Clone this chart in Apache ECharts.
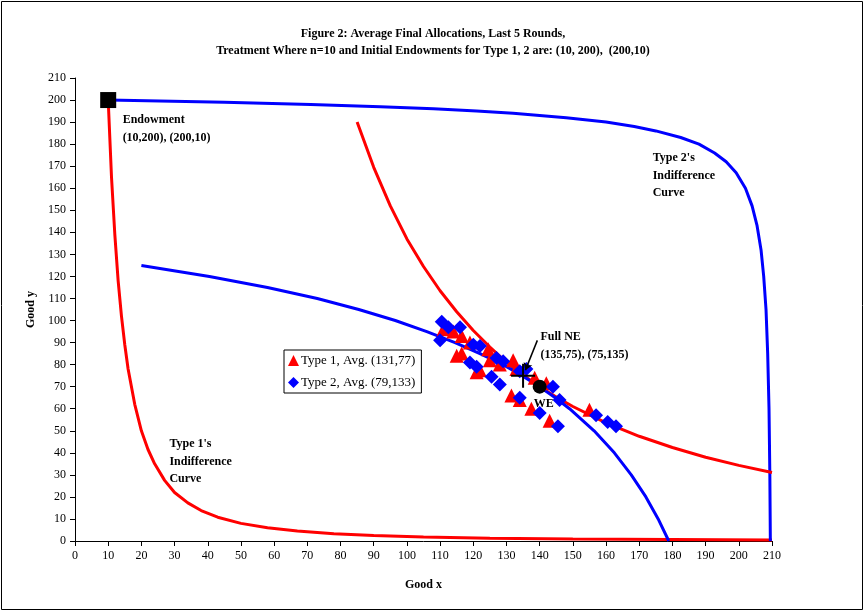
<!DOCTYPE html>
<html>
<head>
<meta charset="utf-8">
<script src="https://cdn.jsdelivr.net/npm/echarts@6/dist/echarts.min.js"></script>
<style>
html,body{margin:0;padding:0;background:#fff;}
#chart{width:866px;height:615px;}
</style>
</head>
<body>
<div id="chart"></div>
<script>
// ---- Data ----
const titleLines = [
  'Figure 2: Average Final Allocations, Last 5 Rounds,',
  'Treatment Where n=10 and Initial Endowments for Type 1, 2 are: (10, 200),  (200,10)'
];
const axisMin = 0, axisMax = 210, axisStep = 10;

// Type 1's indifference curve through the endowment (red)
const red1 = [[10,200],[11,165],[12,139],[13,118],[14,102],[15,89],[16,78],[18,62],[20,50],[22,41.5],[24,35],[27,27.5],[30,22],[34,17.3],[38,13.8],[43,10.8],[50,8],[58,6],[67,4.5],[78,3.3],[90,2.5],[105,1.8],[125,1.3],[150,0.9],[180,0.65],[210,0.5]];
// Type 2's indifference curve through the endowment (blue)
const blue1 = [[10,200],[45,199],[71,198],[92,197],[108,196],[121,195],[132,194],[148,192],[160,190],[168.5,188],[175,186],[182.5,183],[188,180],[192.7,176],[196.2,172],[199.2,167],[202,160],[204,152],[205.5,143],[206.7,132],[207.5,120],[208.2,105],[208.7,85],[209.1,60],[209.35,30],[209.5,0]];
// Type 1 curve through the equilibrium (red)
const red2 = [[85,190],[90,169.5],[95,152],[100,137],[105,124.5],[110,113.5],[115,104],[120,95.5],[125,88],[130,81],[135,75.3],[140,70],[145,65.3],[150,61],[160,53.6],[170,47.5],[180,42.4],[190,38],[200,34.3],[210,31.1]];
// Type 2 curve through the equilibrium (blue)
const blue2 = [[20,125],[40.5,120],[58,115],[73,110],[85.5,105],[96.5,100],[106,95],[114.5,90],[122,85],[129,80],[134.7,75],[140,70],[144.7,65],[149,60],[156.4,50],[162.5,40],[167.6,30],[172,20],[175.7,10],[178.9,0]];

// Average final allocations
const type1Pts = [[111,96],[114,95],[116.5,93],[119,90],[115,84],[116.5,85],[124.5,87],[122,77.5],[125,82],[128,80],[132,82],[133,78],[138.5,74],[142,71.5],[131.5,66],[134,64],[137.5,60],[143,54.5],[155,59.5],[121,76.5]];
const type2Pts = [[110.5,99.5],[112.5,97],[116,97],[110,91],[120,89],[122,88.5],[119,81],[121,79],[125.5,74.5],[128,71],[127,83],[129,81.5],[134,77],[136,78],[144,70],[134,65],[146,64],[140,58],[145.5,52],[157,57],[160.5,54],[163,52]];
const type1Name = 'Type 1, Avg. (131,77)';
const type2Name = 'Type 2, Avg. (79,133)';

const endowment = [[10,200]];
const walras = [[140,70]];
const nash = [[135,75]];
const neArrow = [[139.3,91],[135.7,77.5]];

const notes = [
  {text:'Endowment\n(10,200), (200,10)', x:14.5, y:194.6},
  {text:"Type 2's\nIndifference\nCurve", x:174.2, y:177.3},
  {text:"Type 1's\nIndifference\nCurve", x:28.6, y:47.6},
  {text:'Full NE\n(135,75), (75,135)', x:140.4, y:96.1},
  {text:'WE', x:138.4, y:65.8}
];

// ---- Chart ----
const FONT = '"Liberation Serif","Times New Roman",serif';
const chart = echarts.init(document.getElementById('chart'), null, {renderer:'canvas'});

function curve(name, data, color){
  return {name, type:'line', data, showSymbol:false, symbol:'none', smooth:false,
    lineStyle:{color, width:3}, itemStyle:{color}, silent:true, z:2};
}

const option = {
  backgroundColor:'#fff',
  animation:false,
  title:{
    text: titleLines.join('\n'), left:'center', top:20,
    textStyle:{fontFamily:FONT, fontWeight:'bold', fontSize:12, lineHeight:17, color:'#000'}
  },
  legend:{
    left:284, top:350, orient:'vertical',
    data:[{name:type1Name, icon:'triangle'},{name:type2Name, icon:'diamond'}],
    itemWidth:11, itemHeight:11, itemGap:9,
    padding:[4,6,4,4],
    borderColor:'#000', borderWidth:1, backgroundColor:'#fff',
    textStyle:{fontFamily:FONT, fontSize:13, color:'#000', padding:[0,0,0,-3]},
    selectedMode:false
  },
  grid:{left:75, right:94, top:78, bottom:74, containLabel:false},
  xAxis:{
    type:'value', min:axisMin, max:axisMax, interval:axisStep,
    name:'Good x', nameLocation:'middle', nameGap:38,
    nameTextStyle:{fontFamily:FONT, fontWeight:'bold', fontSize:12, color:'#000'},
    axisLine:{show:true, onZero:false, lineStyle:{color:'#000', width:1}},
    axisTick:{show:true, length:5, lineStyle:{color:'#000'}},
    axisLabel:{fontFamily:FONT, fontSize:12, color:'#000', margin:9},
    splitLine:{show:false}
  },
  yAxis:{
    type:'value', min:axisMin, max:axisMax, interval:axisStep,
    name:'Good y', nameLocation:'middle', nameGap:38, nameRotate:90,
    nameTextStyle:{fontFamily:FONT, fontWeight:'bold', fontSize:12, color:'#000'},
    axisLine:{show:true, onZero:false, lineStyle:{color:'#000', width:1}},
    axisTick:{show:true, length:5, lineStyle:{color:'#000'}},
    axisLabel:{fontFamily:FONT, fontSize:12, color:'#000', margin:9},
    splitLine:{show:false}
  },
  graphic:[{
    type:'rect', shape:{x:1.5, y:1.5, width:861, height:608},
    style:{fill:'none', stroke:'#000', lineWidth:1}, silent:true, z:-10
  }],
  series:[
    curve('red1', red1, '#FF0000'),
    curve('blue1', blue1, '#0000FF'),
    curve('red2', red2, '#FF0000'),
    curve('blue2', blue2, '#0000FF'),
    {name:type1Name, type:'scatter', data:type1Pts, symbol:'triangle', symbolSize:14,
      itemStyle:{color:'#FF0000', opacity:1}, z:4},
    {name:type2Name, type:'scatter', data:type2Pts, symbol:'diamond', symbolSize:14,
      itemStyle:{color:'#0000FF', opacity:1}, z:5},
    {name:'endow', type:'scatter', data:endowment, symbol:'rect', symbolSize:16,
      itemStyle:{color:'#000', opacity:1}, z:6},
    {name:'we', type:'scatter', data:walras, symbol:'circle', symbolSize:14,
      itemStyle:{color:'#000', opacity:1}, z:6},
    {name:'ne', type:'scatter', data:nash,
      symbol:'path://M-1,-12H1V-1H12V1H1V12H-1V1H-12V-1H-1Z', symbolSize:24,
      itemStyle:{color:'#000', opacity:1}, z:7},
    {name:'arrow', type:'lines', coordinateSystem:'cartesian2d',
      data:[{coords:neArrow}], symbol:['none','arrow'], symbolSize:7,
      lineStyle:{color:'#000', width:1.5, opacity:1}, z:7, silent:true},
    {name:'notes', type:'scatter', symbol:'circle', symbolSize:1,
      itemStyle:{color:'rgba(0,0,0,0)', opacity:1}, silent:true, z:8,
      data: notes.map(n => ({value:[n.x, n.y], name:n.text})),
      label:{show:true, position:[0,0], align:'left', verticalAlign:'top',
        formatter: p => p.name, opacity:1,
        fontFamily:FONT, fontWeight:'bold', fontSize:12, lineHeight:17.5, color:'#000'}}
  ]
};
chart.setOption(option);
</script>
</body>
</html>
